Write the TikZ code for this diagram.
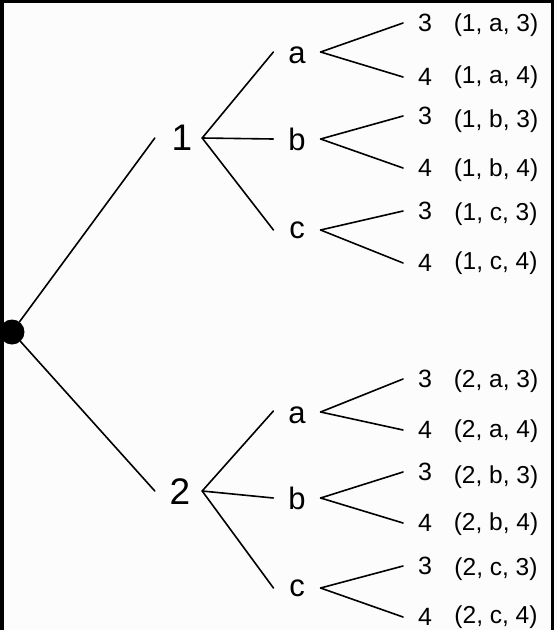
\documentclass[tikz,border=0pt]{standalone}
\usepackage{fontspec}
\setmainfont{Liberation Sans}
\definecolor{bgc}{RGB}{252,252,252}
\begin{document}
\begin{tikzpicture}[x=1pt,y=-1pt,
  br/.style={line width=1.6pt, line cap=round},
  lone/.style={font=\fontsize{37}{40}\selectfont, inner sep=0pt},
  ltwo/.style={font=\fontsize{31}{34}\selectfont, inner sep=0pt, outer xsep=15pt},
  leaf/.style={font=\fontsize{25}{28}\selectfont, inner sep=0pt, outer xsep=15pt},
  tup/.style={font=\fontsize{24.5}{28}\selectfont, inner sep=0pt},
  rootdot/.style={circle, fill=black, inner sep=0pt, minimum size=25pt}
]
\fill[bgc] (0,0) rectangle (557,630);
\useasboundingbox (0,0) rectangle (557,630);
% frame
\fill[black] (0,0) rectangle (4,630);
\fill[black] (0,0) rectangle (554,3);
\fill[black] (551,0) rectangle (554,630);

% nodes
\node[rootdot] (root) at (12,332) {};
\node[lone] (n1) at (182,138) {1};
\node[lone] (n2) at (180,492) {2};
\node[ltwo] (a1) at (297,55) {a};
\node[ltwo] (b1) at (297,139) {b};
\node[ltwo] (c1) at (297,230) {c};
\node[ltwo] (a2) at (297,415) {a};
\node[ltwo] (b2) at (297,498) {b};
\node[ltwo] (c2) at (297,588) {c};

\foreach \g/\l/\d/\y/\ty in {1/a/3/23/25, 1/a/4/77/77, 1/b/3/116/121, 1/b/4/168/170,
  1/c/3/211/214, 1/c/4/263/263, 2/a/3/379/381, 2/a/4/430/431, 2/b/3/472/477,
  2/b/4/523/524, 2/c/3/566/569, 2/c/4/617/617}{
  \node[leaf] (l\g\l\d) at (425,\y) {\d};
  \node[tup] (t\g\l\d) at (496,\ty) {(\g, \l, \d)};
}

% first level
\draw[br] (root) -- ([xshift=-16.7pt]n1.west);
\draw[br] (root) -- ([xshift=-14.7pt,yshift=1pt]n2.west);
% second level
\draw[br] ([xshift=9.7pt]n1.east) -- ([yshift=3pt]a1.west);
\draw[br] ([xshift=9.7pt]n1.east) -- (b1.west);
\draw[br] ([xshift=9.7pt]n1.east) -- ([xshift=-0.8pt]c1.west);
\draw[br] ([xshift=11.7pt,yshift=1pt]n2.east) -- ([yshift=4pt]a2.west);
\draw[br] ([xshift=11.7pt,yshift=1pt]n2.east) -- (b2.west);
\draw[br] ([xshift=11.7pt,yshift=1pt]n2.east) -- ([xshift=-0.8pt]c2.west);
% forks
\foreach \g in {1,2}{
  \draw[br] ([yshift=3pt]a\g.east) -- (l\g a3.west);
  \draw[br] ([yshift=3pt]a\g.east) -- (l\g a4.west);
  \draw[br] (b\g.east) -- (l\g b3.west);
  \draw[br] (b\g.east) -- (l\g b4.west);
  \draw[br] ([xshift=0.8pt]c\g.east) -- (l\g c3.west);
  \draw[br] ([xshift=0.8pt]c\g.east) -- (l\g c4.west);
}
\end{tikzpicture}
\end{document}
